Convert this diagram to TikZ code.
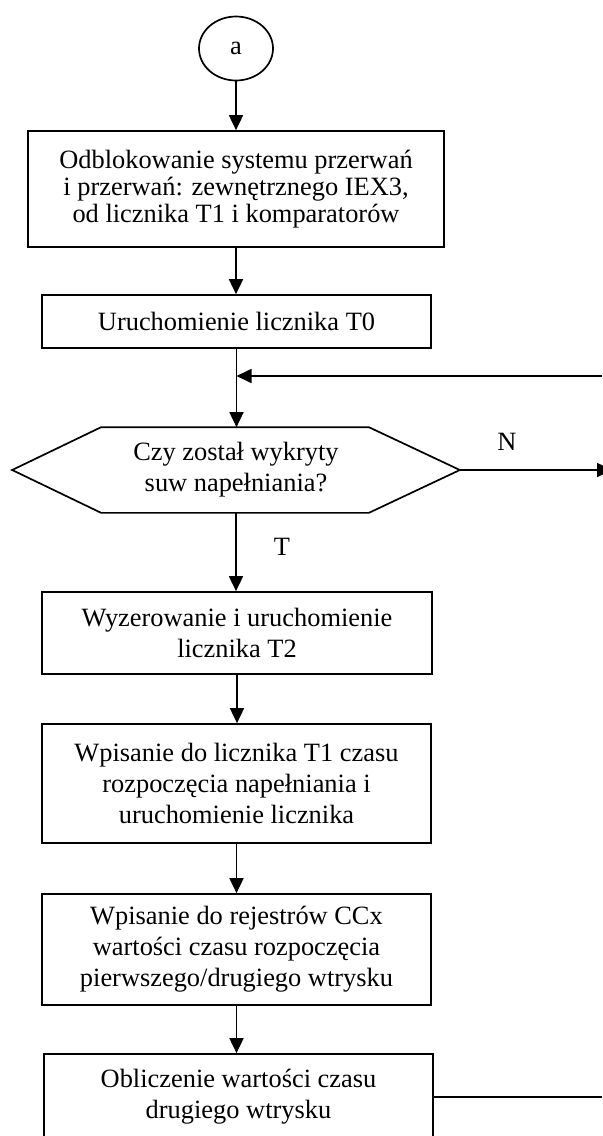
\documentclass[tikz,border=0pt]{standalone}
\usepackage{fontspec}
\setmainfont{Liberation Serif}
\usetikzlibrary{arrows.meta,shapes.geometric}

\begin{document}
\begin{tikzpicture}[x=0.5pt, y=-0.5pt, line width=0.85pt, >={Triangle[length=7.5pt,width=7pt]},
	font=\fontsize{13.2}{15.5}\selectfont,
	box/.style={draw, align=center, minimum width=194.5pt, inner sep=0pt},
	conn/.style={ellipse, draw, minimum width=37pt, minimum height=32pt, inner sep=0pt},
	lbl/.style={inner sep=0pt, align=center}]
	\useasboundingbox (0,0) rectangle (602,1136);
	
	\node[conn] (a) at (236,48.5) {a};
	\node[box, minimum width=208pt, minimum height=58pt, font=\fontsize{13.2}{13.5}\selectfont] (b1) at (236,189)
	{Odblokowanie systemu przerwań\\ i przerwań: zewnętrznego IEX3,\\ od licznika T1 i komparatorów};
	\node[box, minimum height=26.5pt] (b2) at (236.5,321.5) {Uruchomienie licznika T0};
	\node[lbl, minimum width=223pt, minimum height=42pt] (q) at (236,470) {Czy został wykryty\\ suw napełniania?};
	\node[box, minimum width=195pt, minimum height=41pt] (b3) at (237,633) {Wyzerowanie i uruchomienie\\ licznika T2};
	\node[box, minimum height=59.5pt] (b4) at (236.5,783.5) {Wpisanie do licznika T1 czasu\\ rozpoczęcia napełniania i\\ uruchomienie licznika};
	\node[box, minimum height=55.5pt] (b5) at (236.5,949.5) {Wpisanie do rejestrów CCx\\ wartości czasu rozpoczęcia\\ pierwszego/drugiego wtrysku};
	\node[box, minimum height=43pt] (b6) at (238.5,1097) {Obliczenie wartości czasu\\ drugiego wtrysku};
	
	% decyzja
	\draw (q.west) -- ([xshift=44.5pt]q.north west) -- ([xshift=-45.5pt]q.north east) -- (q.east)
	-- ([xshift=-45.5pt]q.south east) -- ([xshift=44.5pt]q.south west) -- cycle;
	
	\path
	(602,376) coordinate (fb)
	(612,470) coordinate (nr)
	(602,1097) coordinate (out);
	
	\foreach \p/\n in {a/b1, b1/b2, b2/q, q/b3, b3/b4, b4/b5}
	\draw[->] (\p.south) -- (\p.south |- \n.north);
	\draw[->] (b5.south) -- (b5.south |- b6.north);
	
	\draw[->] (fb) -- (fb -| b2.south);
	\draw[->] (q.east) -- (nr);
	\draw (b6.east) -- (out);
	
	\node[lbl] (n) at (507,442) {N};
	\node[lbl] (t) at (282,547) {T};
\end{tikzpicture}
\end{document}
